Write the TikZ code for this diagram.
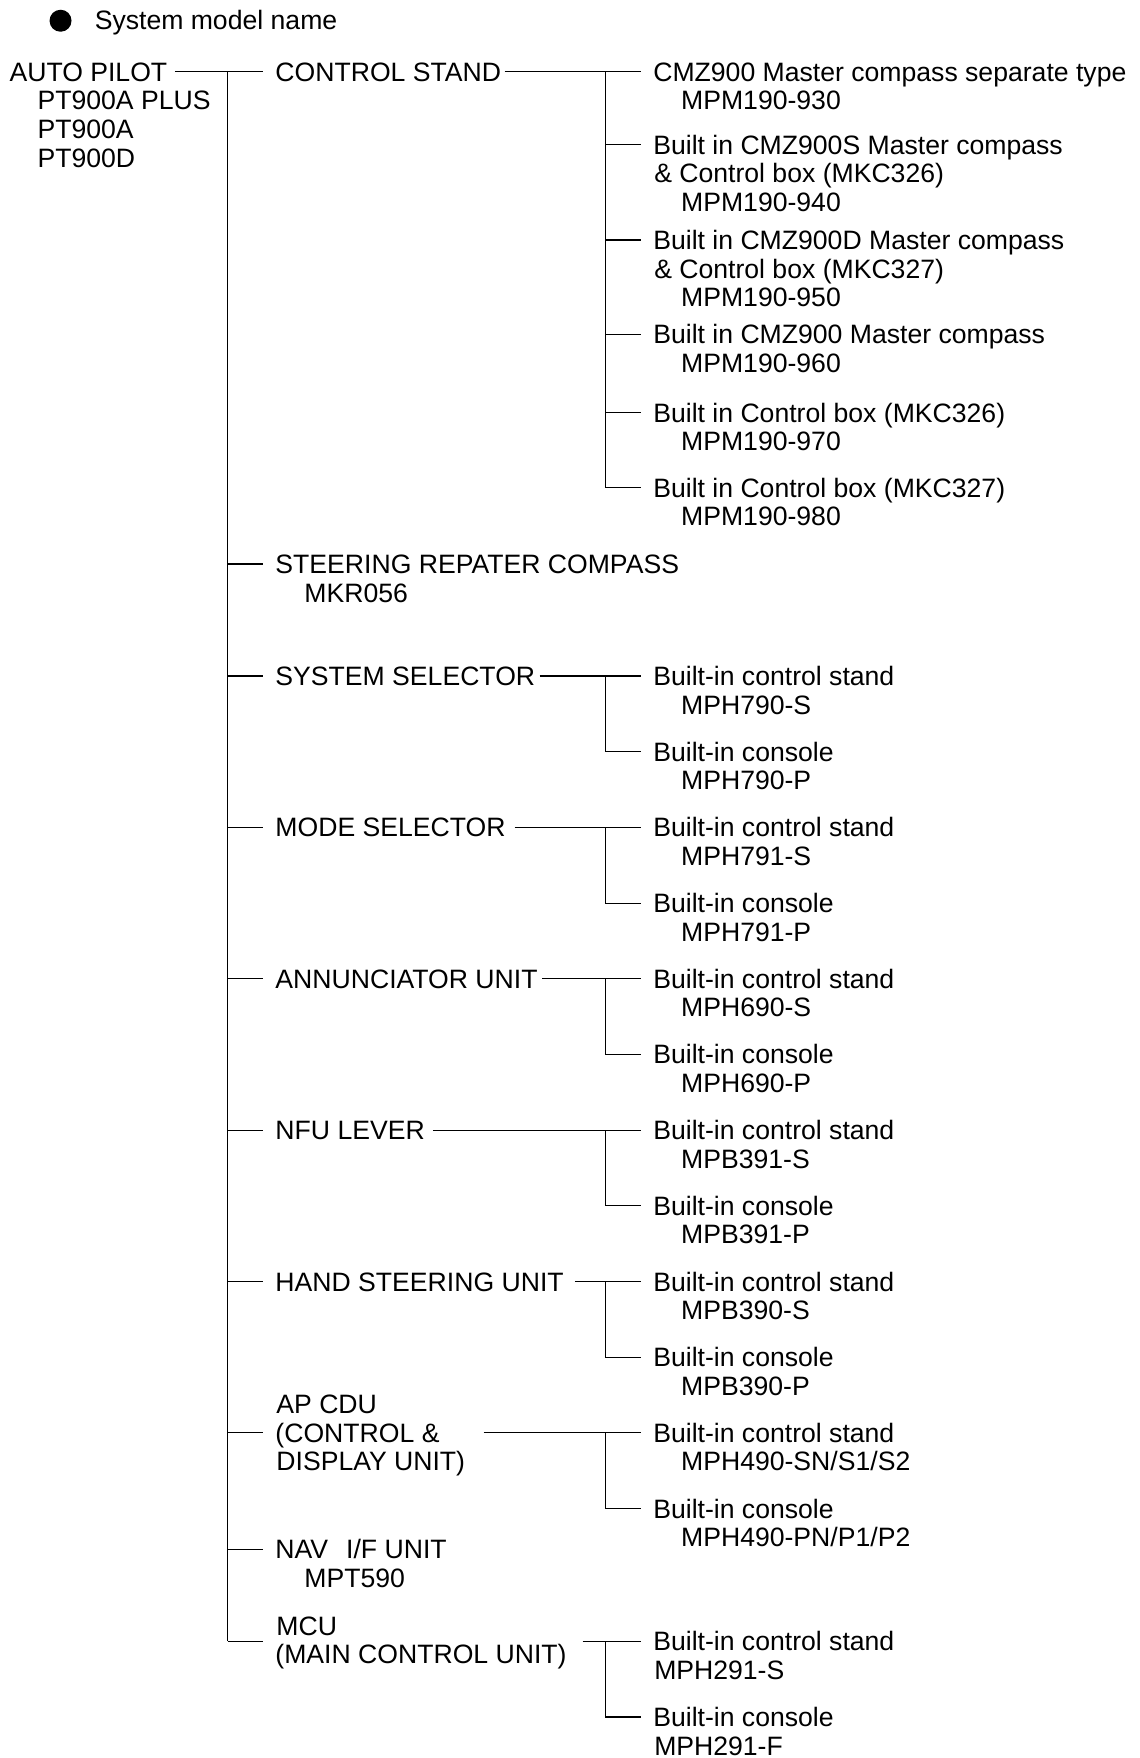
\documentclass[tikz,border=0pt]{standalone}
\usepackage{fontspec}
\setmainfont{Liberation Sans}
\begin{document}
\begin{tikzpicture}[x=1.1211pt,y=-1.1211pt,line width=1.2pt,
  txt/.style={inner sep=0pt,anchor=west,text height=19pt,text depth=0pt,font=\fontsize{26.6pt}{28.6pt}\selectfont},
  item/.style={txt,outer xsep=12pt}]
\useasboundingbox (0,0) rectangle (1016,1568);
% legend
\node[circle,fill,inner sep=0pt,minimum size=22pt] (dot) at (54,18.5) {};
\node[txt] (legend) at (84,18) {System model name};
% system
\node[txt] (auto) at (8,64) {AUTO PILOT};
\node[txt] (autoa) at (33,89.5) {PT900A PLUS};
\node[txt] (autob) at (33,115) {PT900A};
\node[txt] (autoc) at (33,140.5) {PT900D};
\coordinate (trunk) at (203,64);
\coordinate (mcj) at (540,1464);
% units
\node[item] (cs) at (235,64) {CONTROL STAND};
\node[item] (sr) at (235,503) {STEERING REPATER COMPASS};
\node[txt] (srm) at (271,528.5) {MKR056};
\node[item] (ss) at (235,603) {SYSTEM SELECTOR};
\node[item] (ms) at (235,738) {MODE SELECTOR};
\node[item] (an) at (235,873) {ANNUNCIATOR UNIT};
\node[item] (nf) at (235,1008) {NFU LEVER};
\node[item] (hs) at (235,1143) {HAND STEERING UNIT};
\node[txt] (apa) at (246,1252.5) {AP CDU};
\node[item] (apb) at (235,1278) {(CONTROL \&};
\node[txt] (apc) at (246,1303.5) {DISPLAY UNIT)};
\node[item] (nv) at (235,1382) {NAV\hspace{18pt}I/F UNIT};
\node[txt] (nvm) at (271,1407.5) {MPT590};
\node[txt] (mca) at (246,1450) {MCU};
\node[item] (mcb) at (235,1475.5) {(MAIN CONTROL UNIT)};
% control stand types
\node[item] (c1) at (572,64) {CMZ900 Master compass separate type};
\node[txt] (c1m) at (607,89.5) {MPM190-930};
\node[item] (c2) at (572,129) {Built in CMZ900S Master compass};
\node[txt] (c2a) at (583,154.5) {\& Control box (MKC326)};
\node[txt] (c2m) at (607,180) {MPM190-940};
\node[item] (c3) at (572,214) {Built in CMZ900D Master compass};
\node[txt] (c3a) at (583,239.5) {\& Control box (MKC327)};
\node[txt] (c3m) at (607,265) {MPM190-950};
\node[item] (c4) at (572,298) {Built in CMZ900 Master compass};
\node[txt] (c4m) at (607,323.5) {MPM190-960};
\node[item] (c5) at (572,368) {Built in Control box (MKC326)};
\node[txt] (c5m) at (607,393.5) {MPM190-970};
\node[item] (c6) at (572,435) {Built in Control box (MKC327)};
\node[txt] (c6m) at (607,460.5) {MPM190-980};
% built-in types
\node[item] (ss1) at (572,603) {Built-in control stand};
\node[txt] (ss1m) at (607,628.5) {MPH790-S};
\node[item] (ss2) at (572,670.5) {Built-in console};
\node[txt] (ss2m) at (607,696) {MPH790-P};
\node[item] (ms1) at (572,738) {Built-in control stand};
\node[txt] (ms1m) at (607,763.5) {MPH791-S};
\node[item] (ms2) at (572,805.5) {Built-in console};
\node[txt] (ms2m) at (607,831) {MPH791-P};
\node[item] (an1) at (572,873) {Built-in control stand};
\node[txt] (an1m) at (607,898.5) {MPH690-S};
\node[item] (an2) at (572,940.5) {Built-in console};
\node[txt] (an2m) at (607,966) {MPH690-P};
\node[item] (nf1) at (572,1008) {Built-in control stand};
\node[txt] (nf1m) at (607,1033.5) {MPB391-S};
\node[item] (nf2) at (572,1075.5) {Built-in console};
\node[txt] (nf2m) at (607,1101) {MPB391-P};
\node[item] (hs1) at (572,1143) {Built-in control stand};
\node[txt] (hs1m) at (607,1168.5) {MPB390-S};
\node[item] (hs2) at (572,1210.5) {Built-in console};
\node[txt] (hs2m) at (607,1236) {MPB390-P};
\node[item] (ap1) at (572,1278) {Built-in control stand};
\node[txt] (ap1m) at (607,1303.5) {MPH490-SN/S1/S2};
\node[item] (ap2) at (572,1345.5) {Built-in console};
\node[txt] (ap2m) at (607,1371) {MPH490-PN/P1/P2};
\node[item] (mc1) at (572,1464) {Built-in control stand};
\node[txt] (mc1m) at (583,1489.5) {MPH291-S};
\node[item] (mc2) at (572,1531.5) {Built-in console};
\node[txt] (mc2m) at (583,1557) {MPH291-F};
% trunk and unit branches
\draw ([xshift=7pt]auto.east) -- (cs.west);
\draw (trunk) -- (trunk |- mcj);
\draw (trunk |- sr.west) -- (sr.west);
\draw (trunk |- ss.west) -- (ss.west);
\draw (trunk |- ms.west) -- (ms.west);
\draw (trunk |- an.west) -- (an.west);
\draw (trunk |- nf.west) -- (nf.west);
\draw (trunk |- hs.west) -- (hs.west);
\draw (trunk |- apb.west) -- (apb.west);
\draw (trunk |- nv.west) -- (nv.west);
\draw (trunk |- mcj) -- (mcb.west |- mcj);
% control stand branches
\draw ([xshift=-8.6pt]cs.east) -- (c1.west);
\draw (mcj |- c1.west) -- (mcj |- c6.west) -- (c6.west);
\draw (mcj |- c2.west) -- (c2.west);
\draw (mcj |- c3.west) -- (c3.west);
\draw (mcj |- c4.west) -- (c4.west);
\draw (mcj |- c5.west) -- (c5.west);
% built-in branches
\draw ([xshift=-7.5pt]ss.east) -- (ss1.west);
\draw (mcj |- ss1.west) |- (ss2.west);
\draw ([xshift=-3pt]ms.east) -- (ms1.west);
\draw (mcj |- ms1.west) |- (ms2.west);
\draw ([xshift=-7.5pt]an.east) -- (an1.west);
\draw (mcj |- an1.west) |- (an2.west);
\draw ([xshift=-4pt]nf.east) -- (nf1.west);
\draw (mcj |- nf1.west) |- (nf2.west);
\draw ([xshift=-0.8pt]hs.east) -- (hs1.west);
\draw (mcj |- hs1.west) |- (hs2.west);
\draw ([xshift=18pt]apc.east |- apb.east) -- (ap1.west);
\draw (mcj |- ap1.west) |- (ap2.west);
\draw ([xshift=4pt]mcb.east |- mcj) -- (mc1.west);
\draw (mcj) |- (mc2.west);
\end{tikzpicture}
\end{document}
